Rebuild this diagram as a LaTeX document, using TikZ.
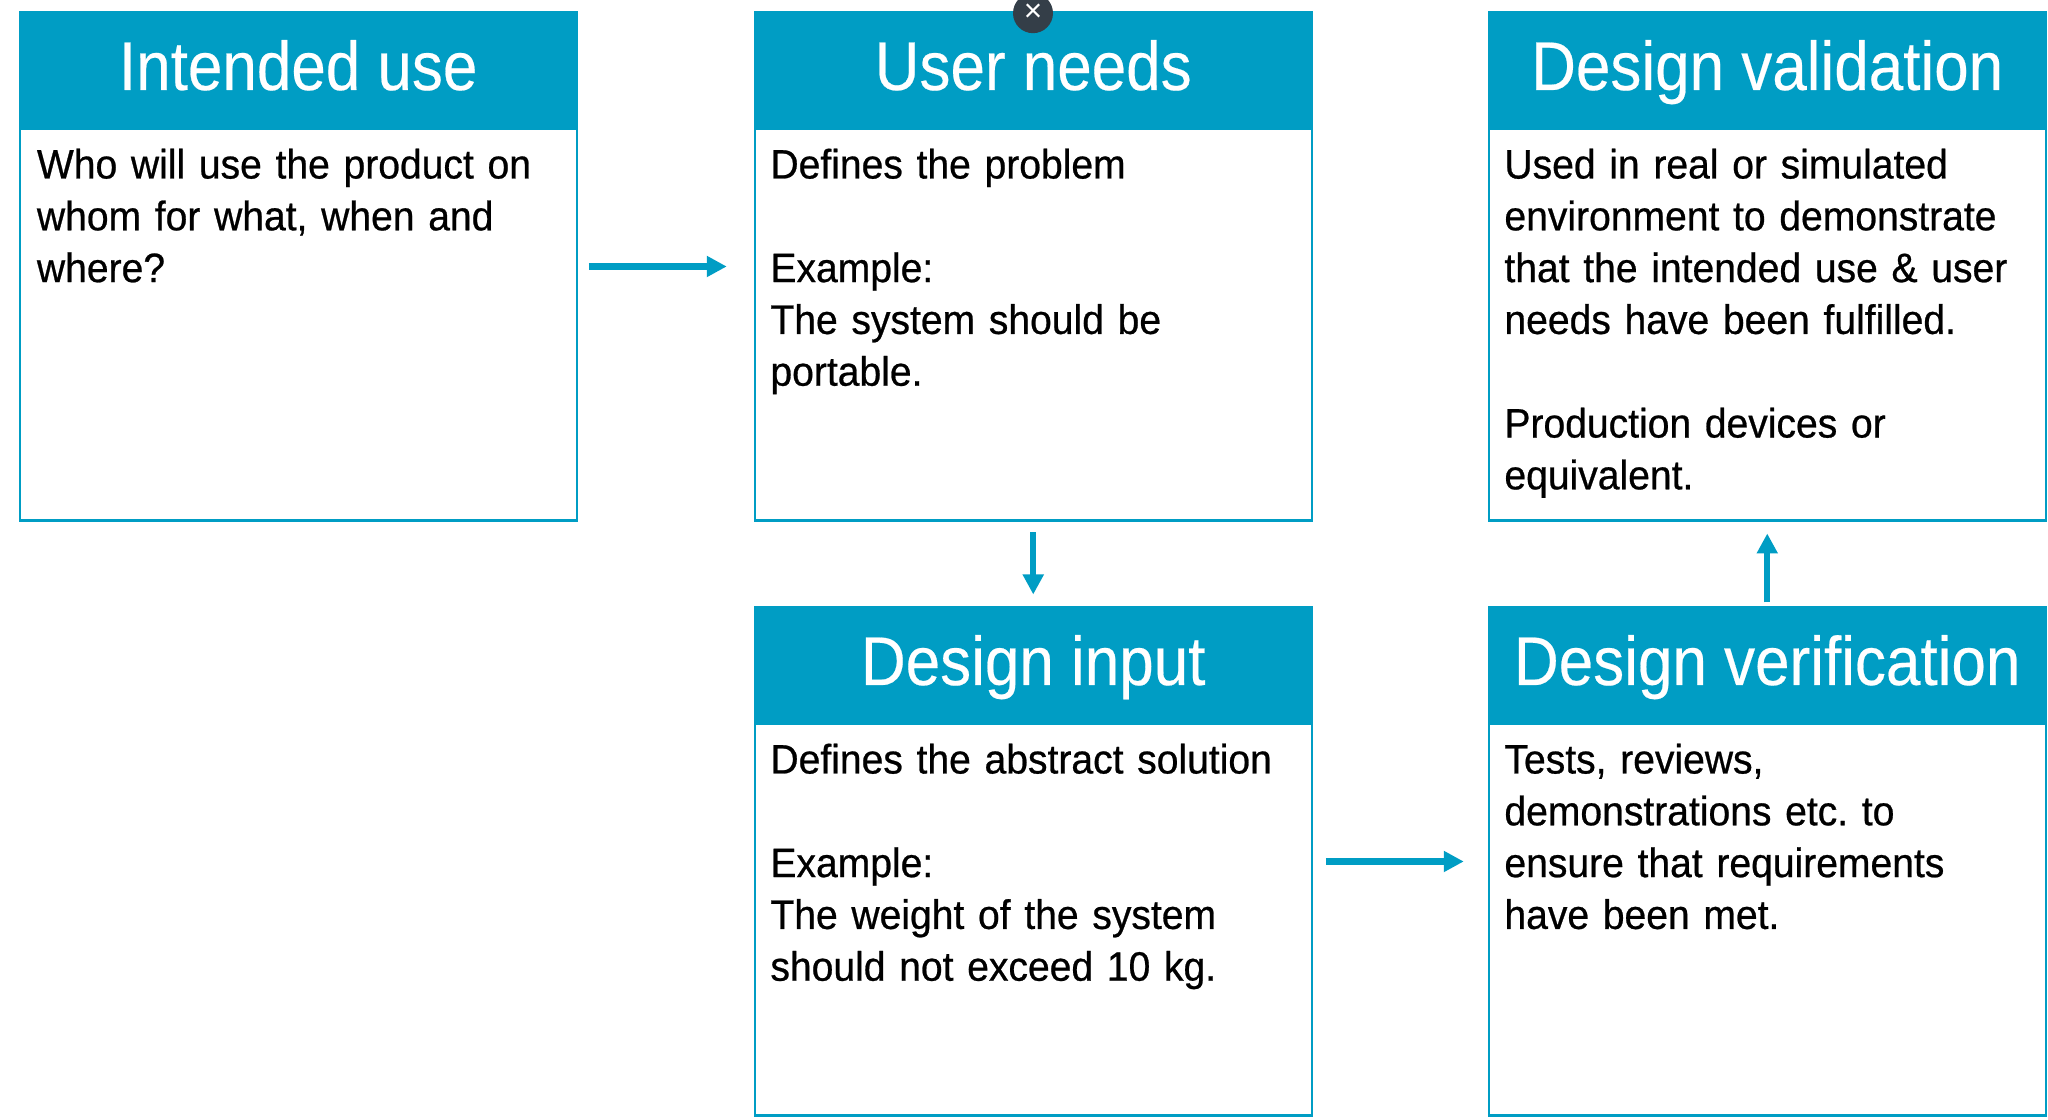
\documentclass[tikz,border=0pt]{standalone}
\usepackage{fontspec}
\setmainfont{Liberation Sans}
\newfontfamily\headfont[FakeStretch=0.9,FakeBold=0.3]{Liberation Sans}
\newfontfamily\bodyfont[FakeStretch=0.95,FakeBold=0.6]{Liberation Sans}
\usetikzlibrary{positioning,arrows.meta}
\definecolor{qmsblue}{RGB}{0,157,196}
\definecolor{closegray}{RGB}{52,62,72}
\frenchspacing

\begin{document}
\begin{tikzpicture}[
  head/.style={fill=qmsblue, draw=qmsblue, line width=0.6pt, text=white,
    minimum width=5.57cm, minimum height=1.16cm, inner sep=0pt, outer sep=0pt,
    text height=0.52cm, text depth=0.13cm, font=\headfont\fontsize{19.6}{22}\selectfont},
  body/.style={draw=qmsblue, line width=0.6pt, minimum width=5.57cm,
    minimum height=3.92cm, inner sep=0pt, outer sep=0pt},
  txt/.style={anchor=base west, align=left, text width=5.3cm, inner sep=0pt,
    font=\bodyfont\fontsize{11.7}{14.74}\selectfont},
  flow/.style={-{Triangle[length=0.2cm,width=0.2cm]}, qmsblue, line width=1.8pt}
]
  \useasboundingbox (0,0) rectangle (20.48,11.2);
  % top row
  \node[head] (iuhead) at (2.9825,10.495) {Intended use};
  \node[body, below=0pt of iuhead] (iubody) {};
  \node[head, right=1.78cm of iuhead] (unhead) {User needs};
  \node[body, below=0pt of unhead] (unbody) {};
  \node[head, right=1.77cm of unhead] (dvhead) {Design validation};
  \node[body, below=0pt of dvhead] (dvbody) {};
  % bottom row
  \node[head, below=0.87cm of unbody] (dihead) {Design input};
  \node[body, below=0pt of dihead] (dibody) {};
  \node[head, below=0.87cm of dvbody] (drhead) {Design verification};
  \node[body, below=0pt of drhead] (drbody) {};
  % texts
  \node[txt] (iutext) at ([xshift=0.165cm,yshift=-0.5cm]iubody.north west)
    {Who will use the product on\\whom for what, when and\\where?};
  \node[txt] (untext) at ([xshift=0.15cm,yshift=-0.5cm]unbody.north west)
    {Defines the problem\\[14.74pt]Example:\\The system should be\\portable.};
  \node[txt] (dvtext) at ([xshift=0.15cm,yshift=-0.5cm]dvbody.north west)
    {Used in real or simulated\\environment to demonstrate\\that the intended use \& user\\needs have been fulfilled.\\[14.74pt]Production devices or\\equivalent.};
  \node[txt] (ditext) at ([xshift=0.15cm,yshift=-0.5cm]dibody.north west)
    {Defines the abstract solution\\[14.74pt]Example:\\The weight of the system\\should not exceed 10 kg.};
  \node[txt] (drtext) at ([xshift=0.15cm,yshift=-0.5cm]drbody.north west)
    {Tests, reviews,\\demonstrations etc. to\\ensure that requirements\\have been met.};
  % arrows
  \draw[flow, shorten <=0.12cm, shorten >=0.28cm] ([yshift=-1.38cm]iubody.north east) -- ([yshift=-1.38cm]unbody.north west);
  \draw[flow, shorten <=0.12cm, shorten >=0.13cm] (unbody.south) -- (dihead.north);
  \draw[flow, shorten <=0.14cm, shorten >=0.25cm] ([yshift=-1.38cm]dibody.north east) -- ([yshift=-1.38cm]drbody.north west);
  \draw[flow, shorten <=0.05cm, shorten >=0.13cm] (drhead.north) -- (dvbody.south);
  % close button
  \node[circle, fill=closegray, minimum size=0.4cm, inner sep=0pt, text=white,
    font=\fontsize{9}{9}\selectfont] (closebtn) at (10.33,11.068) {×};
\end{tikzpicture}
\end{document}
